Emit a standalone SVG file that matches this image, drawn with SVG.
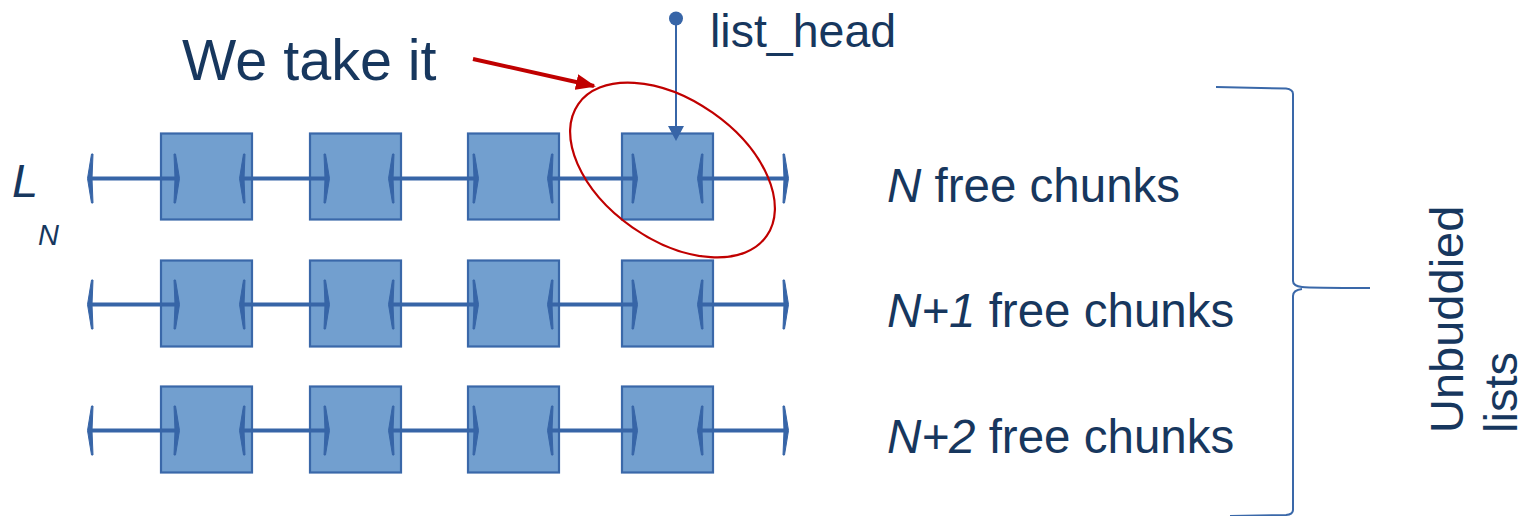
<svg xmlns="http://www.w3.org/2000/svg" xmlns:xlink="http://www.w3.org/1999/xlink" width="1528" height="516" viewBox="0 0 1528 516">
<style>
.box{fill:#729fcf;stroke:#3a68a9;stroke-width:2.2}
.lnk{stroke:#3765a7;stroke-width:4;fill:none}
.hd{fill:#3765a7;stroke:#3765a7;stroke-width:1;stroke-linejoin:round}
.txt{font-family:"Liberation Sans",Arial,sans-serif;fill:#17375e}
.brace{fill:none;stroke:#3a68a9;stroke-width:2}
</style>
<defs>
<path id="hr" class="hd" d="M 1.5,0 L -2.5,-24.5 L -4,-24.5 L -3,0 L -4,24.5 L -2.5,24.5 Z"/>
<path id="hl" class="hd" d="M -1.5,0 L 2.5,-24.5 L 4,-24.5 L 3,0 L 4,24.5 L 2.5,24.5 Z"/>
<marker id="redArrow" markerWidth="5" markerHeight="4" refX="4.5" refY="2" orient="auto" markerUnits="strokeWidth">
<path d="M0,0 L5,2 L0,4 Z" fill="#c00000"/>
</marker>
</defs>

<g id="row1">
<rect id="n1a" class="box" x="161" y="133.5" width="91" height="86"/>
<rect id="n1b" class="box" x="310" y="133.5" width="91" height="86"/>
<rect id="n1c" class="box" x="468" y="133.5" width="91" height="86"/>
<rect id="n1d" class="box" x="622" y="133.5" width="91" height="86"/>
</g>
<g id="row2">
<rect id="n2a" class="box" x="161" y="260.5" width="91" height="86"/>
<rect id="n2b" class="box" x="310" y="260.5" width="91" height="86"/>
<rect id="n2c" class="box" x="468" y="260.5" width="91" height="86"/>
<rect id="n2d" class="box" x="622" y="260.5" width="91" height="86"/>
</g>
<g id="row3">
<rect id="n3a" class="box" x="161" y="386.5" width="91" height="86"/>
<rect id="n3b" class="box" x="310" y="386.5" width="91" height="86"/>
<rect id="n3c" class="box" x="468" y="386.5" width="91" height="86"/>
<rect id="n3d" class="box" x="622" y="386.5" width="91" height="86"/>
</g>

<g id="connectors">
<g id="links1" transform="translate(0,178.5)">
<path class="lnk" d="M89,0 H178 M241,0 H328 M390,0 H477 M549,0 H636 M699,0 H787"/>
<use xlink:href="#hl" x="89"/><use xlink:href="#hr" x="178"/>
<use xlink:href="#hl" x="241"/><use xlink:href="#hr" x="328"/>
<use xlink:href="#hl" x="390"/><use xlink:href="#hr" x="477"/>
<use xlink:href="#hl" x="549"/><use xlink:href="#hr" x="636"/>
<use xlink:href="#hl" x="699"/><use xlink:href="#hr" x="787"/>
</g>
<g id="links2" transform="translate(0,304.5)">
<path class="lnk" d="M89,0 H178 M241,0 H328 M390,0 H477 M549,0 H636 M699,0 H787"/>
<use xlink:href="#hl" x="89"/><use xlink:href="#hr" x="178"/>
<use xlink:href="#hl" x="241"/><use xlink:href="#hr" x="328"/>
<use xlink:href="#hl" x="390"/><use xlink:href="#hr" x="477"/>
<use xlink:href="#hl" x="549"/><use xlink:href="#hr" x="636"/>
<use xlink:href="#hl" x="699"/><use xlink:href="#hr" x="787"/>
</g>
<g id="links3" transform="translate(0,430.5)">
<path class="lnk" d="M89,0 H178 M241,0 H328 M390,0 H477 M549,0 H636 M699,0 H787"/>
<use xlink:href="#hl" x="89"/><use xlink:href="#hr" x="178"/>
<use xlink:href="#hl" x="241"/><use xlink:href="#hr" x="328"/>
<use xlink:href="#hl" x="390"/><use xlink:href="#hr" x="477"/>
<use xlink:href="#hl" x="549"/><use xlink:href="#hr" x="636"/>
<use xlink:href="#hl" x="699"/><use xlink:href="#hr" x="787"/>
</g>
<g id="listHeadPtr">
<circle cx="676" cy="18.5" r="7" fill="#3765a7"/>
<line x1="676" y1="18" x2="676" y2="128" stroke="#3765a7" stroke-width="2"/>
<path d="M668,126 L684,126 L676,141 Z" fill="#3765a7"/>
</g>
<g id="redPointer">
<line x1="473" y1="59" x2="594" y2="86" stroke="#c00000" stroke-width="4" marker-end="url(#redArrow)"/>
</g>
<g id="brace">
<path class="brace" d="M1216,87 L1286,88.5 Q1293,89.5 1293,94 L1293,281 Q1293,286 1302,287 Q1310,288 1370,288 M1302,289 Q1293,290 1293,296 L1293,510 Q1293,514.5 1286,515 L1230,516"/>
</g>
</g>

<ellipse id="highlight" cx="672.5" cy="170" rx="115" ry="70" transform="rotate(35 672.5 170)" fill="none" stroke="#c00000" stroke-width="2.2"/>

<g id="labels">
<text class="txt" x="182" y="80" font-size="57.5">We take it</text>
<text class="txt" x="710" y="47" font-size="46.5">list_head</text>
<text class="txt" x="12" y="197" font-size="47" font-style="italic">L</text>
<text class="txt" x="38" y="245" font-size="29" font-style="italic">N</text>
<text class="txt" x="887" y="202" font-size="47.5"><tspan font-style="italic">N</tspan> free chunks</text>
<text class="txt" x="887" y="327" font-size="47.5"><tspan font-style="italic">N+1</tspan> free chunks</text>
<text class="txt" x="887" y="453" font-size="47.5"><tspan font-style="italic">N+2</tspan> free chunks</text>
<text class="txt" font-size="47" transform="translate(1463,433) rotate(-90)">Unbuddied</text>
<text class="txt" font-size="47" transform="translate(1517,433) rotate(-90)">lists</text>
</g>
</svg>
